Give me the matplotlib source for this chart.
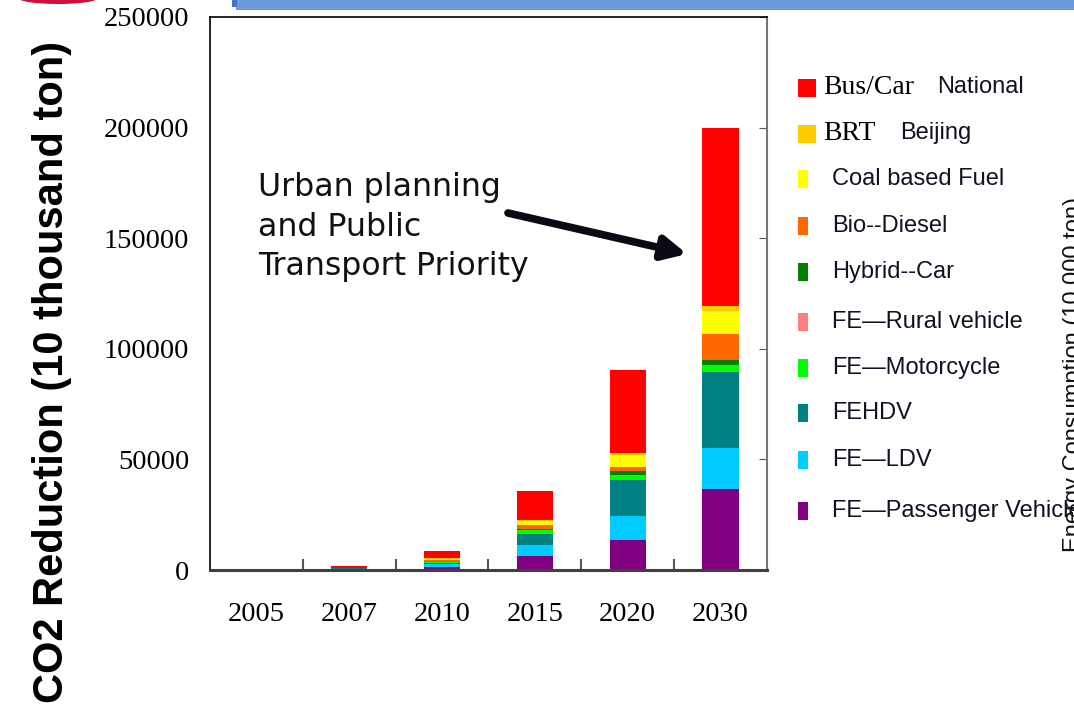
import matplotlib
matplotlib.use('Agg')
import matplotlib.pyplot as plt
import numpy as np
from matplotlib.patches import Rectangle, Ellipse

# values (10 thousand ton)
years = ['2005', '2007', '2010', '2015', '2020', '2030']
passenger = [0, 200, 1400, 6300, 13600, 36600]
ldv = [0, 0, 1500, 5000, 10800, 18700]
fehdv = [0, 700, 300, 5000, 16300, 34300]
rural = [0, 0, 0, 0, 0, 0]
motorcycle = [0, 0, 200, 1950, 2300, 3200]
hybrid = [0, 0, 0, 450, 1800, 2200]
biodiesel = [0, 0, 1000, 1700, 1800, 11900]
coal_fuel = [0, 0, 500, 1800, 5400, 10300]
brt = [0, 0, 300, 400, 900, 2300]
bus_car = [0, 800, 3600, 13100, 37600, 80500]

# bottom to top
series = [
    ('FE\u2014Passenger Vehicle', passenger, '#800080'),
    ('FE\u2014LDV', ldv, '#00CCFF'),
    ('FEHDV', fehdv, '#008080'),
    ('FE\u2014Rural vehicle', rural, '#FF8080'),
    ('FE\u2014Motorcycle', motorcycle, '#00FF00'),
    ('Hybrid--Car', hybrid, '#008000'),
    ('Bio--Diesel', biodiesel, '#FF6600'),
    ('Coal based Fuel', coal_fuel, '#FFFF00'),
    ('BRT', brt, '#FFCC00'),
    ('Bus/Car', bus_car, '#FF0000'),
]

W, H = 1074, 709
fig = plt.figure(figsize=(W / 100, H / 100), dpi=100)
ax = fig.add_axes([210 / W, 1 - 570 / H, 557 / W, 553 / H])

x = np.arange(len(years))
bottom = np.zeros(len(years))
for name, vals, col in series:
    ax.bar(x, vals, width=0.39, bottom=bottom, color=col, linewidth=0)
    bottom += np.array(vals)

ax.set_xlim(-0.5, len(years) - 0.5)
ax.set_ylim(0, 250000)
ax.set_yticks(np.arange(0, 250001, 50000))
ax.set_xticks(x)
ax.set_xticklabels(years)
ax.set_xticks(np.arange(0.5, len(years) - 0.5, 1), minor=True)

serif = 'Liberation Serif'
for lab in ax.get_xticklabels() + ax.get_yticklabels():
    lab.set_fontfamily(serif)
    lab.set_fontsize(20.5)

ax.tick_params(axis='x', which='major', length=0, pad=23)
ax.tick_params(axis='x', which='minor', direction='in', length=8,
               width=1.5, color='#555555')
ax.tick_params(axis='y', left=False, right=True, labelleft=True,
               direction='in', length=6, color='#555555', pad=15)

for side in ['top', 'left']:
    ax.spines[side].set_color('black')
    ax.spines[side].set_linewidth(1.2)
ax.spines['right'].set_color('#777777')
ax.spines['right'].set_linewidth(1.5)
ax.spines['bottom'].set_color('#404040')
ax.spines['bottom'].set_linewidth(2.2)

fig.text(52 / W, 1 - 372 / H, 'CO2 Reduction (10 thousand ton)',
         rotation=90, ha='center', va='center', fontsize=30,
         fontweight='bold', family='Liberation Sans')

# annotation
fig.text(258 / W, 1 - 172 / H,
         'Urban planning\nand Public\nTransport Priority',
         ha='left', va='top', fontsize=22.7, family='DejaVu Sans',
         linespacing=1.36, color='#111111')
ax.annotate('', xy=(687, H - 254), xycoords='figure pixels',
            xytext=(508, H - 213), textcoords='figure pixels',
            arrowprops=dict(arrowstyle='-|>,head_length=1.4,head_width=0.7',
                            lw=5.5, color='#0a0a14', shrinkA=0, shrinkB=0))

# legend, drawn by hand (mixed fonts)
sans = 'Liberation Sans'
legend_rows = [
    ('Bus/Car', 'National', 88, True),
    ('BRT', 'Beijing', 134, True),
    ('Coal based Fuel', None, 179, False),
    ('Bio--Diesel', None, 226, False),
    ('Hybrid--Car', None, 272, False),
    ('FE\u2014Rural vehicle', None, 322, False),
    ('FE\u2014Motorcycle', None, 368, False),
    ('FEHDV', None, 413, False),
    ('FE\u2014LDV', None, 460, False),
    ('FE\u2014Passenger Vehicle', None, 511, False),
]
colors = {name: col for name, _, col in series}
for label, extra, yc, big in legend_rows:
    w = 18 if big else 10
    fig.patches.append(Rectangle((798 / W, 1 - (yc + 9) / H), w / W, 18 / H,
                                 transform=fig.transFigure,
                                 color=colors[label], lw=0))
    if big:
        fig.text(823 / W, 1 - yc / H, label, ha='left', va='center',
                 fontsize=20, family=serif)
        xe = 937 if label == 'Bus/Car' else 900
        fig.text(xe / W, 1 - (yc - 1) / H, extra, ha='left', va='center',
                 fontsize=17, family=sans, color='#111122')
    else:
        fig.text(832 / W, 1 - yc / H, label, ha='left', va='center',
                 fontsize=17, family=sans, color='#111122')

# clipped text from the neighbouring chart (cut off at the edge, as in the slide)
fig.text(1063 / W, 1 - 552 / H, 'Energy Consumption (10,000 ton)',
         rotation=90, ha='left', va='bottom', fontsize=17, family=sans,
         color='#111111')

# slide decorations
fig.patches.append(Rectangle((236 / W, 1 - 10 / H), 1, 10 / H,
                             transform=fig.transFigure, color='#6A9BD8',
                             lw=0))
fig.patches.append(Rectangle((232 / W, 1 - 7 / H), 5 / W, 7 / H,
                             transform=fig.transFigure, color='#4472C4',
                             lw=0))
fig.patches.append(Ellipse((58 / W, 1 + 2 / H), 80 / W, 12 / H,
                           transform=fig.transFigure, color='#D0103A',
                           lw=0))

fig.savefig('out.png', dpi=100)
